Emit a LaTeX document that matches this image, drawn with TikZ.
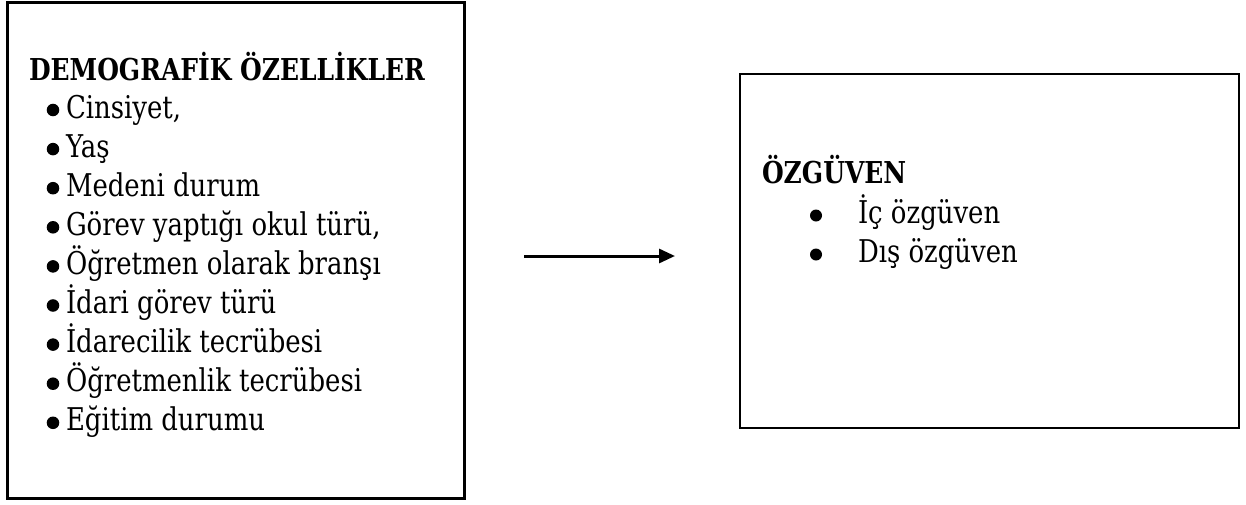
\documentclass[tikz,border=0pt]{standalone}
\usepackage{fontspec}
\setmainfont{DejaVu Serif Condensed}[FakeStretch=0.92]
\usetikzlibrary{arrows.meta}
\begin{document}
\begin{tikzpicture}[x=0.75pt,y=-0.75pt,
  frame/.style={draw=black,inner sep=0pt,outer sep=0pt},
  item/.style={anchor=base west,inner sep=0pt,outer sep=0pt,font=\fontsize{23.5}{28}\selectfont},
  heading/.style={item,font=\fontsize{22.6}{28}\selectfont\bfseries},
  dot/.style={fill=black}]
\useasboundingbox (0,0) rectangle (1246,504);
\fill[white] (0,0) rectangle (1246,504);

% left box: demographic variables
\node[frame,line width=2.25pt,minimum width=342.75pt,minimum height=372pt] (demo) at (235.5,250) {};
\node[heading] (demohead) at (29,80) {DEMOGRAFİK ÖZELLİKLER};
\foreach \t [count=\i] in {{Cinsiyet,},Yaş,Medeni durum,{Görev yaptığı okul türü,},Öğretmen olarak branşı,İdari görev türü,İdarecilik tecrübesi,Öğretmenlik tecrübesi,Eğitim durumu}{
  \node[item] (d\i) at (66,{118+(\i-1)*39.1}) {\t};
  \fill[dot] (d\i.base west) ++(-13,-8) circle[radius=4.7pt];
}

% right box: self-confidence
\node[frame,line width=1.9pt,minimum width=374.25pt,minimum height=265.5pt] (ozg) at (989.5,251) {};
\node[heading] (ozghead) at (762,183) {ÖZGÜVEN};
\node[item] (o1) at (858,223) {İç özgüven};
\node[item] (o2) at (858,262) {Dış özgüven};
\fill[dot] (816,215.5) circle[radius=4.5pt];
\fill[dot] (816,254.5) circle[radius=4.5pt];

% arrow between the boxes
\coordinate (a1) at (524,256);
\coordinate (a2) at (675,256);
\draw[line width=2.25pt,-{Triangle[length=12pt,width=10.5pt]}] (a1) -- (a2);
\end{tikzpicture}
\end{document}
